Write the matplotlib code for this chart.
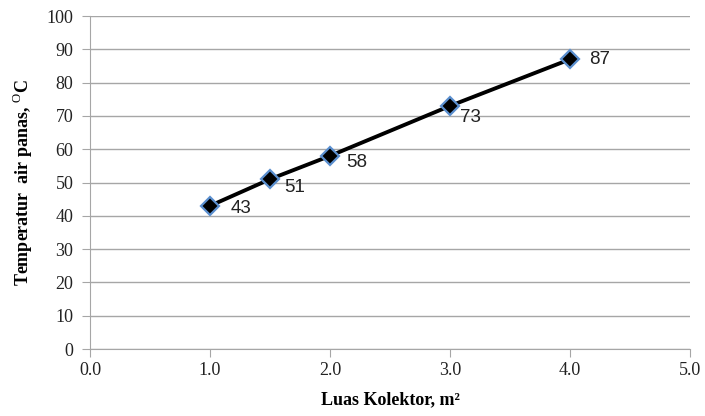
import matplotlib
matplotlib.use("Agg")
import matplotlib.pyplot as plt

# Luas kolektor (m2) dan temperatur air panas (oC)
luas = [1.0, 1.5, 2.0, 3.0, 4.0]
temperatur = [43, 51, 58, 73, 87]
label_offset = [(15, -2), (10, -6), (12, -5), (7, -8), (14, 0)]

x_ticks = [0.0, 1.0, 2.0, 3.0, 4.0, 5.0]
y_ticks = list(range(0, 101, 10))

plt.rcParams['mathtext.fontset'] = 'custom'
plt.rcParams['mathtext.rm'] = 'Liberation Serif'
plt.rcParams['mathtext.bf'] = 'Liberation Serif:bold'

fig = plt.figure(figsize=(7.05, 4.16), dpi=100)
ax = fig.add_axes([0.1277, 0.161, 0.851, 0.8005])

ax.plot(luas, temperatur, color='black', lw=2.8, zorder=3)
ax.plot(luas, temperatur, ls='none', marker='D', ms=9, mfc='black',
        mec='#5b8fcf', mew=1.6, zorder=4)

for xv, yv, off in zip(luas, temperatur, label_offset):
    ax.annotate(str(yv), (xv, yv), xytext=off, textcoords='offset points',
                ha='left', va='center', fontsize=13.5, family='Liberation Sans',
                color='#222222')

ax.set_xlim(0, 5)
ax.set_ylim(0, 100)
ax.set_xticks(x_ticks)
ax.set_xticklabels([f'{v:.1f}' for v in x_ticks])
ax.set_yticks(y_ticks)

ax.grid(axis='y', color='#a6a6a6', lw=1)
ax.set_axisbelow(True)
for s in ['top', 'right']:
    ax.spines[s].set_visible(False)
for s in ['left', 'bottom']:
    ax.spines[s].set_color('#a6a6a6')
ax.tick_params(axis='both', direction='out', length=6, color='#a6a6a6',
               labelsize=13, labelcolor='#222222')
ax.tick_params(axis='y', pad=6)
for lbl in ax.get_xticklabels() + ax.get_yticklabels():
    lbl.set_family('Liberation Serif')

ax.set_xlabel('Luas Kolektor, m²', family='Liberation Serif',
              fontweight='bold', fontsize=13, labelpad=9)
ax.set_ylabel(r'Temperatur  air panas, $^{\mathrm{O}}$C', family='Liberation Serif',
              fontweight='bold', fontsize=13, labelpad=8)

fig.savefig('out.png', dpi=100)
